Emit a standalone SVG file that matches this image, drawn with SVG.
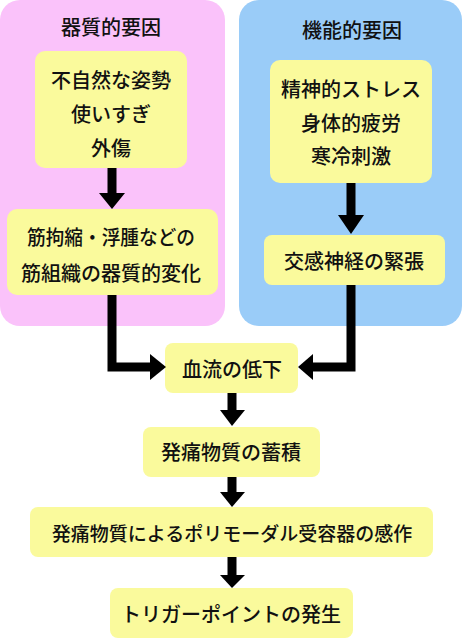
<svg xmlns="http://www.w3.org/2000/svg" width="464" height="640" viewBox="0 0 464 640">
<style>
.panel-p{fill:#FAC2FA}
.panel-b{fill:#9ACCF8}
.box{fill:#FAFA9C}
.t{font-family:"Noto Sans CJK JP","Noto Sans CJK SC",sans-serif;font-size:20px;font-weight:500;fill:#111;text-anchor:middle;dominant-baseline:central}
.s{font-size:19px}
.line{fill:none;stroke:#000;stroke-width:9}
.head{fill:#000}
</style>
<rect width="464" height="640" fill="#fff"/>
<g id="panel-organic">
<rect class="panel-p" x="0" y="0" width="225" height="326" rx="20"/>
<text class="t" x="111" y="26">器質的要因</text>
</g>
<g id="panel-functional">
<rect class="panel-b" x="239" y="0" width="223" height="326" rx="20"/>
<text class="t" x="352" y="29">機能的要因</text>
</g>
<g id="node-causes1">
<rect class="box" x="35" y="51" width="152" height="117" rx="10"/>
<text class="t" x="111" y="79">不自然な姿勢</text>
<text class="t" x="111" y="113">使いすぎ</text>
<text class="t" x="111" y="147">外傷</text>
</g>
<g id="node-change">
<rect class="box" x="7" y="209" width="211" height="86" rx="10"/>
<text class="t" x="111" y="236" textLength="168" lengthAdjust="spacingAndGlyphs">筋拘縮・浮腫などの</text>
<text class="t" x="111" y="272">筋組織の器質的変化</text>
</g>
<g id="node-causes2">
<rect class="box" x="270" y="60" width="162" height="123" rx="10"/>
<text class="t" x="351" y="88">精神的ストレス</text>
<text class="t" x="351" y="122">身体的疲労</text>
<text class="t" x="351" y="155">寒冷刺激</text>
</g>
<g id="node-sympathetic">
<rect class="box" x="264" y="235" width="181" height="50" rx="8"/>
<text class="t" x="354" y="260">交感神経の緊張</text>
</g>
<g id="node-blood">
<rect class="box" x="165" y="343" width="133" height="50" rx="8"/>
<text class="t" x="232" y="368">血流の低下</text>
</g>
<g id="node-accum">
<rect class="box" x="143" y="427" width="177" height="50" rx="8"/>
<text class="t" x="231" y="451">発痛物質の蓄積</text>
</g>
<g id="node-sensitize">
<rect class="box" x="30" y="507" width="403" height="50" rx="8"/>
<text class="t s" x="232" y="532">発痛物質によるポリモーダル受容器の感作</text>
</g>
<g id="node-trigger">
<rect class="box" x="110" y="588" width="243" height="50" rx="8"/>
<text class="t" x="231" y="613">トリガーポイントの発生</text>
</g>
<g id="connectors">
<line class="line" x1="112" y1="168" x2="112" y2="194"/>
<polygon class="head" points="99,193 125,193 112,209"/>
<line class="line" x1="351" y1="183" x2="351" y2="216"/>
<polygon class="head" points="338,215 364,215 351,234"/>
<polyline class="line" points="112,295 112,367 152,367"/>
<polygon class="head" points="150,354 150,380 166,367"/>
<polyline class="line" points="351,285 351,367 311,367"/>
<polygon class="head" points="313,354 313,380 298,367"/>
<line class="line" x1="232" y1="393" x2="232" y2="411"/>
<polygon class="head" points="220,410 245,410 232,426"/>
<line class="line" x1="232" y1="477" x2="232" y2="493"/>
<polygon class="head" points="220,492 245,492 232,507"/>
<line class="line" x1="232" y1="557" x2="232" y2="576"/>
<polygon class="head" points="220,575 245,575 232,588"/>
</g>
</svg>
